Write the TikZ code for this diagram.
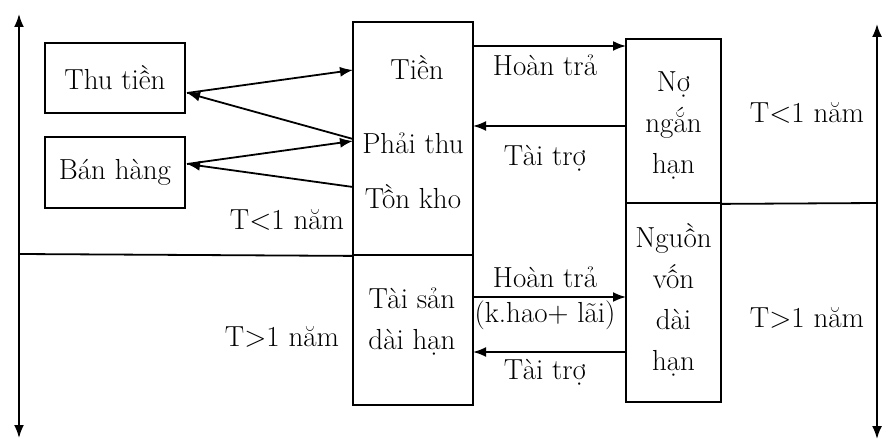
\documentclass[tikz,border=0pt]{standalone}
\usetikzlibrary{arrows.meta}
\begin{document}
\begin{tikzpicture}[x=1pt,y=-1pt,
  txt/.style={font=\fontsize{29}{41}\selectfont, inner sep=0pt, align=center},
  box/.style={draw, line width=1.8pt, inner sep=0pt, minimum width=#1},
  ln/.style={line width=1.8pt},
  arr/.style={line width=1.8pt, -{Latex[length=13pt,width=10pt]}},
  axis/.style={line width=1.8pt, {Latex[length=13pt,width=10pt]}-{Latex[length=13pt,width=10pt]}}]
\useasboundingbox (0,0) rectangle (884,441);
% boxes
\node[box=140pt, minimum height=70pt, txt] (thu) at (115,78) {Thu tiền};
\node[box=140pt, minimum height=71pt, txt] (ban) at (115,172.5) {Bán hàng};
\node[box=120pt, minimum height=233pt] (ca) at (413,138.5) {};
\node[box=120pt, minimum height=150pt] (fa) at (413,330) {};
\node[box=95pt, minimum height=164pt] (nnh) at (673.5,121) {};
\node[box=95pt, minimum height=199pt] (nvdh) at (673.5,302.5) {};
% texts inside
\node[txt] (tien) at (417,68) {Tiền};
\node[txt] (pthu) at (413,143) {Phải thu};
\node[txt] (tkho) at (413,197) {Tồn kho};
\node[txt] (tsdh) at (412,322) {Tài sản\\dài hạn};
\node[txt] (no) at (673.5,125) {Nợ\\ngắn\\hạn};
\node[txt] (nv) at (673.5,300) {Nguồn\\vốn\\dài\\hạn};
% anchor coordinates
\coordinate (thuR) at (187,93);
\coordinate (banR) at (187,164);
\coordinate (caA) at (353,70);
\coordinate (caB) at (353,139);
\coordinate (caC) at (353,141);
\coordinate (caD) at (353,187);
\coordinate (caR1) at (473,46);
\coordinate (caR2) at (473,126);
\coordinate (faR1) at (473,297);
\coordinate (faR2) at (473,352);
\coordinate (nL1) at (626,46);
\coordinate (nL2) at (626,126);
\coordinate (vL1) at (626,297);
\coordinate (vL2) at (626,352);
\coordinate (axT) at (19,14);
\coordinate (axB) at (19,438);
\coordinate (axM) at (19,254);
\coordinate (bxT) at (877,24);
\coordinate (bxB) at (877,439);
\coordinate (bxM) at (877,203);
% left arrows
\draw[arr] (thuR) -- (caA);
\draw[arr] (caB) -- (thuR);
\draw[arr] (banR) -- (caC);
\draw[arr] (caD) -- (banR);
% right arrows
\draw[arr] (caR1) -- (nL1);
\draw[arr] (nL2) -- (caR2);
\draw[arr] (faR1) -- (vL1);
\draw[arr] (vL2) -- (faR2);
% axes
\draw[axis] (axB) -- (axT);
\draw[ln] (axM) -- (ca.south west);
\draw[axis] (bxB) -- (bxT);
\draw[ln] (nnh.south east) -- (bxM);
% labels
\node[txt] (l1) at (545,65) {Hoàn trả};
\node[txt] (l2) at (545,158) {Tài trợ};
\node[txt] (l3) at (545,277) {Hoàn trả};
\node[txt] (l4) at (545,315) {(k.hao+ lãi)};
\node[txt] (l5) at (545,372) {Tài trợ};
\node[txt] (t1) at (287,220) {T<1 năm};
\node[txt] (t2) at (282,337) {T>1 năm};
\node[txt] (t3) at (807,113) {T<1 năm};
\node[txt] (t4) at (807,318) {T>1 năm};
\end{tikzpicture}
\end{document}
